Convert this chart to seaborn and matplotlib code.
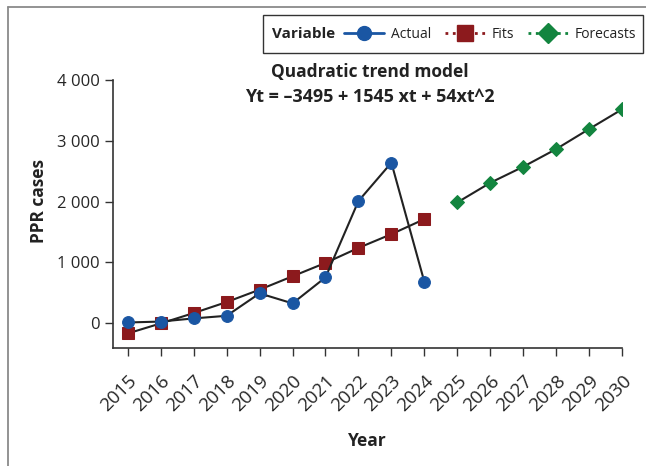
import matplotlib
matplotlib.use("Agg")
import matplotlib.pyplot as plt
import seaborn as sns
from matplotlib.lines import Line2D
from matplotlib.patches import Rectangle
from matplotlib.ticker import FuncFormatter

# data
years_obs = [2015, 2016, 2017, 2018, 2019, 2020, 2021, 2022, 2023, 2024]
actual = [10, 25, 77, 120, 489, 324, 752, 2008, 2639, 680]
fits = [-170, -5, 165, 346, 550, 770, 990, 1237, 1463, 1710]
years_fc = [2025, 2026, 2027, 2028, 2029, 2030]
forecasts = [1985, 2308, 2572, 2863, 3193, 3517]
all_years = list(range(2015, 2031))
y_ticks = [0, 1000, 2000, 3000, 4000]

BLUE = "#1a56a3"
RED = "#8c1a1d"
GREEN = "#13853f"
LINE = "#222222"

sns.set_style("ticks")
plt.rcParams["font.family"] = ["Open Sans", "DejaVu Sans"]
plt.rcParams["text.color"] = "#222222"
plt.rcParams["axes.labelcolor"] = "#222222"

fig = plt.figure(figsize=(6.46, 4.66), dpi=100)
ax = fig.add_axes([113 / 646, 1 - 348 / 466, 509 / 646, 268 / 466])

sns.lineplot(x=years_obs, y=fits, ax=ax, color=LINE, linewidth=1.5,
             marker="s", markersize=8.5, markerfacecolor=RED, markeredgecolor=RED)
sns.lineplot(x=years_obs, y=actual, ax=ax, color=LINE, linewidth=1.5,
             marker="o", markersize=8.5, markerfacecolor=BLUE, markeredgecolor=BLUE)
sns.lineplot(x=years_fc, y=forecasts, ax=ax, color=LINE, linewidth=1.5,
             marker="D", markersize=7.5, markerfacecolor=GREEN, markeredgecolor=GREEN)

ax.set_xlim(2014.55, 2030)
ax.set_ylim(-410, 4000)
ax.set_xticks(all_years)
ax.set_xticklabels([str(y) for y in all_years], rotation=45, ha="right",
                   rotation_mode="anchor", fontsize=13.5)
ax.set_yticks(y_ticks)
ax.yaxis.set_major_formatter(FuncFormatter(lambda v, p: f"{int(v):,}".replace(",", " ")))
ax.tick_params(axis="y", labelsize=12, length=6, width=1, color="#333333")
ax.tick_params(axis="x", length=6, width=1, color="#333333", pad=11)
sns.despine(ax=ax)
for s in ["left", "bottom"]:
    ax.spines[s].set_color("#333333")
    ax.spines[s].set_linewidth(1.2)

ax.set_xlabel("Year", fontsize=12.5, fontweight="bold")
ax.xaxis.set_label_coords(0.5, -0.315)
ax.set_ylabel("PPR cases", fontsize=12.5, fontweight="bold")
ax.yaxis.set_label_coords(-0.128, 0.55)

fig.text(370 / 646, 1 - 72 / 466, "Quadratic trend model", ha="center", va="center",
         fontsize=12.5, fontweight="bold")
fig.text(370 / 646, 1 - 97 / 466, "Yt = –3495 + 1545 xt + 54xt^2", ha="center", va="center",
         fontsize=13, fontweight="bold")

# outer frame lines (top and left)
fig.add_artist(Line2D([8 / 646, 1], [1 - 7 / 466, 1 - 7 / 466], transform=fig.transFigure,
                      color="#8a8a8a", linewidth=1.3))
fig.add_artist(Line2D([8 / 646, 8 / 646], [0, 1 - 7 / 466], transform=fig.transFigure,
                      color="#8a8a8a", linewidth=1.3))

# legend box with inline title
fig.add_artist(Rectangle((263 / 646, 1 - 53 / 466), 380 / 646, 38 / 466,
                         transform=fig.transFigure, fill=False, edgecolor="#333333", linewidth=1))
fig.text(272 / 646, 1 - 34 / 466, "Variable", ha="left", va="center",
         fontsize=11, fontweight="bold")
handles = [
    Line2D([], [], color=BLUE, linewidth=2, marker="o", markersize=10,
           markerfacecolor=BLUE, markeredgecolor=BLUE),
    Line2D([], [], color=RED, linewidth=2, linestyle=":", marker="s", markersize=11,
           markerfacecolor=RED, markeredgecolor=RED),
    Line2D([], [], color=GREEN, linewidth=2, linestyle=":", marker="D", markersize=10,
           markerfacecolor=GREEN, markeredgecolor=GREEN),
]
fig.legend(handles, ["Actual", "Fits", "Forecasts"], loc="center left",
           bbox_to_anchor=(344 / 646, 1 - 34 / 466), ncol=3, frameon=False,
           fontsize=10, handlelength=2.9, handletextpad=0.5, columnspacing=0.95,
           borderpad=0, borderaxespad=0)

fig.savefig("out.png", dpi=100)
